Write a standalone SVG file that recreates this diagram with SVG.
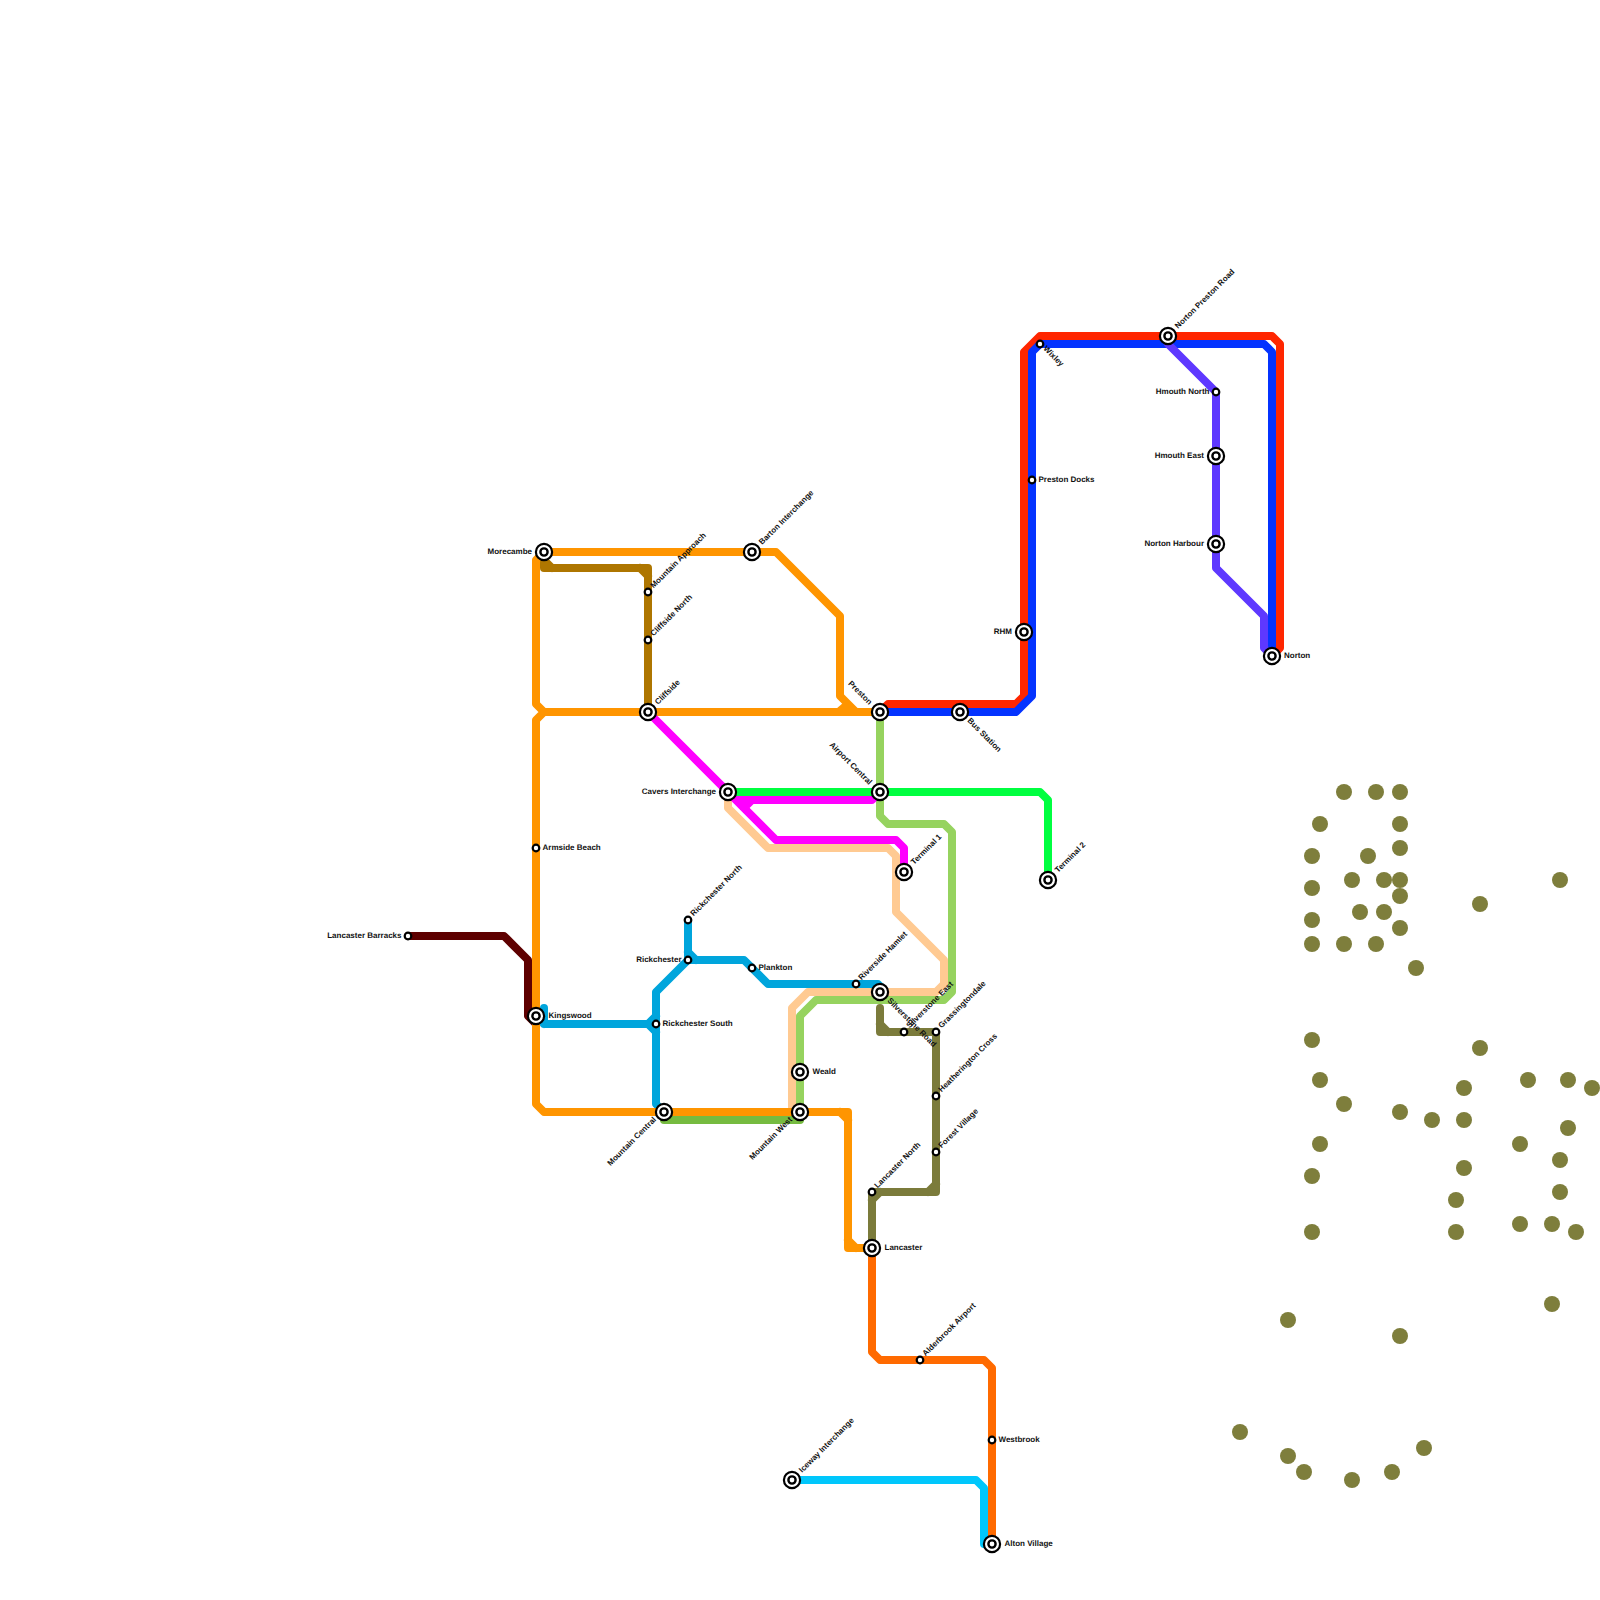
<svg xmlns="http://www.w3.org/2000/svg" width="1600" height="1600" viewBox="0 0 1600 1600">
<style>
.l{fill:none;stroke-width:8;stroke-linecap:round;stroke-linejoin:round}
.or{stroke:#ff9500}.br{stroke:#ae7600}.bl{stroke:#00a5dc}.lg{stroke:#76bb40}.li{stroke:#96d35f}.pe{stroke:#ffca92}.ma{stroke:#ff00ff}.gr{stroke:#00ff40}.re{stroke:#ff2600}.nb{stroke:#0433ff}.pu{stroke:#5e38ff}.do{stroke:#ff6a00}.ol{stroke:#7b7b3b}.cy{stroke:#00c7fc}.mr{stroke:#5e0000}
.o1{fill:#fff;stroke:#000;stroke-width:2.2}
.o2{fill:#fff;stroke:#000;stroke-width:2.4}
.s{fill:#fff;stroke:#000;stroke-width:2.2}
text{font-family:"Liberation Sans",Arial,sans-serif;font-size:8px;font-weight:700;fill:#111;text-rendering:geometricPrecision}
.e{text-anchor:end}
.d{fill:#7e7e3c}
</style>
<defs>
<g id="ix"><circle r="8.1" class="o1"/><circle r="3.6" class="o2"/></g>
<circle id="st" r="3.3" class="s"/>
</defs>
<g id="dots" class="d">
<circle cx="1320" cy="824" r="8"/><circle cx="1344" cy="792" r="8"/><circle cx="1376" cy="792" r="8"/><circle cx="1400" cy="792" r="8"/><circle cx="1400" cy="824" r="8"/><circle cx="1400" cy="848" r="8"/><circle cx="1312" cy="856" r="8"/><circle cx="1368" cy="856" r="8"/><circle cx="1352" cy="880" r="8"/><circle cx="1384" cy="880" r="8"/><circle cx="1400" cy="880" r="8"/><circle cx="1400" cy="896" r="8"/><circle cx="1312" cy="888" r="8"/><circle cx="1360" cy="912" r="8"/><circle cx="1384" cy="912" r="8"/><circle cx="1312" cy="920" r="8"/><circle cx="1400" cy="928" r="8"/><circle cx="1312" cy="944" r="8"/><circle cx="1344" cy="944" r="8"/><circle cx="1376" cy="944" r="8"/><circle cx="1480" cy="904" r="8"/><circle cx="1560" cy="880" r="8"/><circle cx="1416" cy="968" r="8"/><circle cx="1312" cy="1040" r="8"/><circle cx="1480" cy="1048" r="8"/><circle cx="1320" cy="1080" r="8"/><circle cx="1528" cy="1080" r="8"/><circle cx="1568" cy="1080" r="8"/><circle cx="1592" cy="1088" r="8"/><circle cx="1464" cy="1088" r="8"/><circle cx="1344" cy="1104" r="8"/><circle cx="1400" cy="1112" r="8"/><circle cx="1432" cy="1120" r="8"/><circle cx="1464" cy="1120" r="8"/><circle cx="1568" cy="1128" r="8"/><circle cx="1320" cy="1144" r="8"/><circle cx="1520" cy="1144" r="8"/><circle cx="1560" cy="1160" r="8"/><circle cx="1464" cy="1168" r="8"/><circle cx="1312" cy="1176" r="8"/><circle cx="1560" cy="1192" r="8"/><circle cx="1456" cy="1200" r="8"/><circle cx="1520" cy="1224" r="8"/><circle cx="1552" cy="1224" r="8"/><circle cx="1576" cy="1232" r="8"/><circle cx="1312" cy="1232" r="8"/><circle cx="1456" cy="1232" r="8"/><circle cx="1552" cy="1304" r="8"/><circle cx="1288" cy="1320" r="8"/><circle cx="1400" cy="1336" r="8"/><circle cx="1240" cy="1432" r="8"/><circle cx="1288" cy="1456" r="8"/><circle cx="1424" cy="1448" r="8"/><circle cx="1304" cy="1472" r="8"/><circle cx="1352" cy="1480" r="8"/><circle cx="1392" cy="1472" r="8"/>
</g>
<g id="connectors">
<path class="l mr" d="M408,936H504L528,960V1016L536,1024"/>
<path class="l pe" d="M728,792V808L768,848H888L896,856V912L944,960V984L936,992H808L792,1008V1112"/>
<path class="l li" d="M880,712V816L888,824H944L952,832V992L944,1000H816L800,1016V1112"/>
<path class="l lg" d="M664,1112V1120H800V1112"/>
<path class="l bl" d="M544,1008V1024H656M536,1016L544,1024M648,1024L656,1016M648,1024L656,1032M688,920V960H744L768,984H878L884,990M688,952L696,960M688,960L656,992V1104L664,1112"/>
<path class="l br" d="M544,552V568H648V712M544,560L552,568M640,568L648,576"/>
<path class="l or" d="M544,552H776L840,616V696L856,712H880M544,552L536,560V704L544,712H880M544,712L536,720V1104L544,1112H848V1248H872M840,1112L848,1120M848,1240L856,1248"/>
<polygon points="843,703 836,709 850,709" fill="#ff9500"/>
<path class="l ma" d="M648,712L776,840H896L904,848V872M728,792L736,800H872L880,792M744,808L752,800"/>
<path class="l gr" d="M728,792H1040L1048,800V880"/>
<path class="l re" d="M880,712L888,704H1016L1024,696V352L1040,336H1272L1280,344V648L1272,656"/>
<path class="l nb" d="M880,712H1016L1032,696V352L1040,344H1264L1272,352V656"/>
<path class="l pu" d="M1168,344L1216,392V568L1264,616V648L1272,656"/>
<path class="l do" d="M872,1248V1352L880,1360H984L992,1368V1544"/>
<path class="l ol" d="M880,1008V1032H936V1192H872V1248M880,1024L888,1032M936,1184L928,1192M872,1200L880,1192"/>
<path class="l cy" d="M792,1480H976L984,1488V1544L992,1544"/>
</g>
<g id="n-morecambe"><use href="#ix" x="544" y="552"/><text class="e" x="532" y="554">Morecambe</text></g>
<g id="n-barton"><use href="#ix" x="752" y="552"/><text transform="translate(760,543) rotate(-45)" y="3">Barton Interchange</text></g>
<g id="n-mountain-approach"><use href="#st" x="648" y="592"/><text transform="translate(651.5,586.5) rotate(-45)" y="3">Mountain Approach</text></g>
<g id="n-cliffside-north"><use href="#st" x="648" y="640"/><text transform="translate(651.5,634.5) rotate(-45)" y="3">Cliffside North</text></g>
<g id="n-cliffside"><use href="#ix" x="648" y="712"/><text transform="translate(656,703) rotate(-45)" y="3">Cliffside</text></g>
<g id="n-preston"><use href="#ix" x="880" y="712"/><text class="e" transform="translate(871,703) rotate(45)" y="3">Preston</text></g>
<g id="n-cavers"><use href="#ix" x="728" y="792"/><text class="e" x="716" y="794">Cavers Interchange</text></g>
<g id="n-airport"><use href="#ix" x="880" y="792"/><text class="e" transform="translate(871,783) rotate(45)" y="3">Airport Central</text></g>
<g id="n-armside"><use href="#st" x="536" y="848"/><text x="542.5" y="850">Armside Beach</text></g>
<g id="n-kingswood"><use href="#ix" x="536" y="1016"/><text x="548.5" y="1018">Kingswood</text></g>
<g id="n-rickchester-south"><use href="#st" x="656" y="1024"/><text x="662.5" y="1026">Rickchester South</text></g>
<g id="n-rickchester"><use href="#st" x="688" y="960"/><text class="e" x="681.5" y="962">Rickchester</text></g>
<g id="n-rickchester-north"><use href="#st" x="688" y="920"/><text transform="translate(691.5,914.5) rotate(-45)" y="3">Rickchester North</text></g>
<g id="n-plankton"><use href="#st" x="752" y="968"/><text x="758.5" y="970">Plankton</text></g>
<g id="n-mountain-central"><use href="#ix" x="664" y="1112"/><text class="e" transform="translate(654.5,1118) rotate(-45)" y="3">Mountain Central</text></g>
<g id="n-mountain-west"><use href="#ix" x="800" y="1112"/><text class="e" transform="translate(790.5,1118) rotate(-45)" y="3">Mountain West</text></g>
<g id="n-weald"><use href="#ix" x="800" y="1072"/><text x="812.5" y="1074">Weald</text></g>
<g id="n-terminal-1"><use href="#ix" x="904" y="872"/><text transform="translate(912,863) rotate(-45)" y="3">Terminal 1</text></g>
<g id="n-terminal-2"><use href="#ix" x="1048" y="880"/><text transform="translate(1056,871) rotate(-45)" y="3">Terminal 2</text></g>
<g id="n-riverside"><use href="#st" x="856" y="984"/><text transform="translate(859.5,978.5) rotate(-45)" y="3">Riverside Hamlet</text></g>
<g id="n-silverstone-road"><use href="#ix" x="880" y="992"/><text transform="translate(889,999) rotate(45)" y="3">Silverstone Road</text></g>
<g id="n-silverstone-east"><use href="#st" x="904" y="1032"/><text transform="translate(907.5,1026.5) rotate(-45)" y="3">Silverstone East</text></g>
<g id="n-grassingtondale"><use href="#st" x="936" y="1032"/><text transform="translate(939.5,1026.5) rotate(-45)" y="3">Grassingtondale</text></g>
<g id="n-heatherington"><use href="#st" x="936" y="1096"/><text transform="translate(939.5,1090.5) rotate(-45)" y="3">Heatherington Cross</text></g>
<g id="n-forest"><use href="#st" x="936" y="1152"/><text transform="translate(939.5,1146.5) rotate(-45)" y="3">Forest Village</text></g>
<g id="n-lancaster-north"><use href="#st" x="872" y="1192"/><text transform="translate(875.5,1186.5) rotate(-45)" y="3">Lancaster North</text></g>
<g id="n-lancaster"><use href="#ix" x="872" y="1248"/><text x="884.5" y="1250">Lancaster</text></g>
<g id="n-alderbrook"><use href="#st" x="920" y="1360"/><text transform="translate(923.5,1354.5) rotate(-45)" y="3">Alderbrook Airport</text></g>
<g id="n-westbrook"><use href="#st" x="992" y="1440"/><text x="998.5" y="1442">Westbrook</text></g>
<g id="n-alton"><use href="#ix" x="992" y="1544"/><text x="1004.5" y="1546">Alton Village</text></g>
<g id="n-iceway"><use href="#ix" x="792" y="1480"/><text transform="translate(800,1471) rotate(-45)" y="3">Iceway Interchange</text></g>
<g id="n-bus"><use href="#ix" x="960" y="712"/><text transform="translate(969,719) rotate(45)" y="3">Bus Station</text></g>
<g id="n-rhm"><use href="#ix" x="1024" y="632"/><text class="e" x="1012" y="634">RHM</text></g>
<g id="n-docks"><use href="#st" x="1032" y="480"/><text x="1038.5" y="482">Preston Docks</text></g>
<g id="n-wixley"><use href="#st" x="1040" y="344"/><text transform="translate(1045,347) rotate(45)" y="3">Wixley</text></g>
<g id="n-norton-preston"><use href="#ix" x="1168" y="336"/><text transform="translate(1176,327) rotate(-45)" y="3">Norton Preston Road</text></g>
<g id="n-hmouth-north"><use href="#st" x="1216" y="392"/><text class="e" x="1209.5" y="394">Hmouth North</text></g>
<g id="n-hmouth-east"><use href="#ix" x="1216" y="456"/><text class="e" x="1204" y="458">Hmouth East</text></g>
<g id="n-norton-harbour"><use href="#ix" x="1216" y="544"/><text class="e" x="1204" y="546">Norton Harbour</text></g>
<g id="n-norton"><use href="#ix" x="1272" y="656"/><text x="1284" y="658">Norton</text></g>
<g id="n-barracks"><use href="#st" x="408" y="936"/><text class="e" x="401.5" y="938">Lancaster Barracks</text></g>
</svg>
